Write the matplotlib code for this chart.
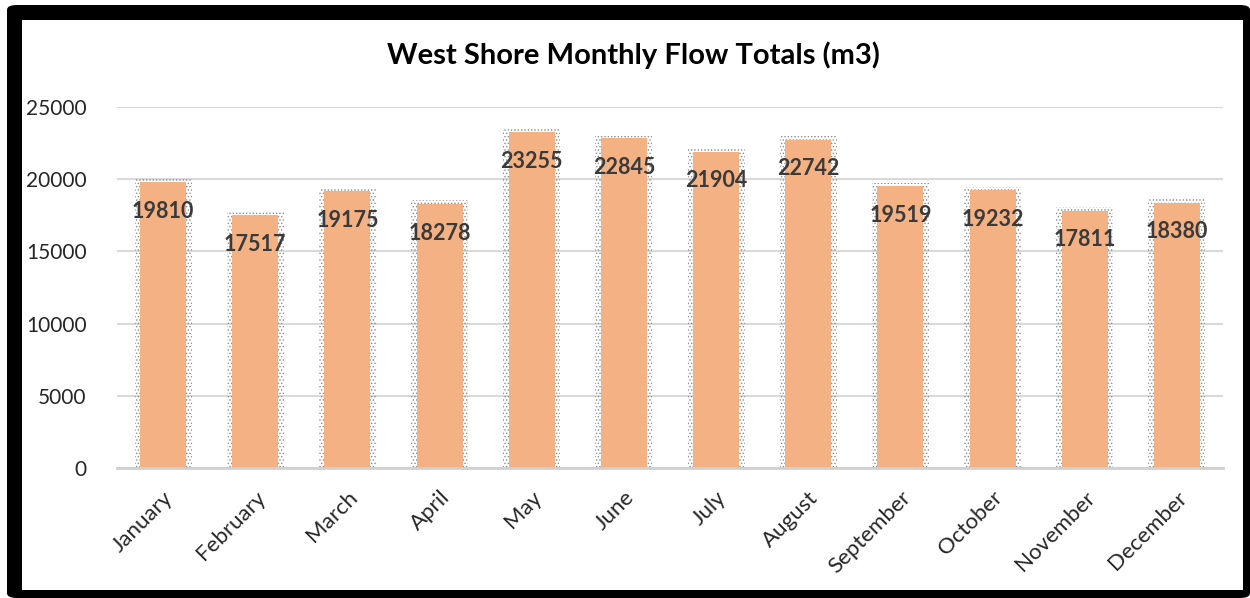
import matplotlib.pyplot as plt
from matplotlib.patches import FancyBboxPatch, Rectangle

# data
months = ["January", "February", "March", "April", "May", "June",
          "July", "August", "September", "October", "November", "December"]
flow_totals = [19810, 17517, 19175, 18278, 23255, 22845,
               21904, 22742, 19519, 19232, 17811, 18380]
y_ticks = [0, 5000, 10000, 15000, 20000, 25000]

bar_color = "#F4B183"
label_color = "#3A3A3A"

plt.rcParams["font.family"] = ["Lato", "DejaVu Sans"]
plt.rcParams["hatch.linewidth"] = 0.6

W, H = 1250, 598
fig = plt.figure(figsize=(W / 100, H / 100), dpi=100)

# black frame, a bit thicker on the left/top like the reference
outer = FancyBboxPatch((7 / W, 0), 1 - 7 / W, (H - 5) / H,
                       boxstyle="round,pad=0,rounding_size=0.008",
                       transform=fig.transFigure, facecolor="black",
                       edgecolor="none", zorder=-3)
inner = Rectangle((22 / W, 8 / H), (1243 - 22) / W, (590 - 20) / H,
                  transform=fig.transFigure, facecolor="white",
                  edgecolor="none", zorder=-2)
fig.patches.extend([outer, inner])

ax = fig.add_axes([117 / W, (H - 468) / H, (1223 - 117) / W, (468 - 107) / H])
ax.set_facecolor("none")

x = range(len(months))

# dotted soft shadow behind the bars
ax.bar(x, [v + 250 for v in flow_totals], width=0.62, facecolor="none",
       edgecolor="#8c8c8c", hatch=".....", linewidth=0, zorder=2)
ax.bar(x, flow_totals, width=0.5, color=bar_color, zorder=3)

for xi, v in zip(x, flow_totals):
    ax.annotate(str(v), (xi, v), xytext=(0, -21), textcoords="offset points",
                ha="center", va="center", fontsize=15.5, fontweight="bold",
                color=label_color, zorder=4)

ax.set_ylim(0, 25000)
ax.set_xlim(-0.5, len(months) - 0.5)
ax.set_yticks(y_ticks)
ax.set_yticklabels([str(t) for t in y_ticks], fontsize=15, color="#262626")
ax.set_xticks(list(x))
ax.set_xticklabels(months, rotation=45, ha="right", rotation_mode="anchor",
                   fontsize=16, color="#262626")
ax.tick_params(axis="both", length=0)
ax.tick_params(axis="y", pad=22)
ax.tick_params(axis="x", pad=14)

ax.grid(axis="y", color="#D9D9D9", linewidth=1.5, zorder=0)
ax.set_axisbelow(True)
for side in ["top", "right", "left"]:
    ax.spines[side].set_visible(False)
ax.spines["bottom"].set_color("#D0D0D0")
ax.spines["bottom"].set_linewidth(2)
ax.spines["bottom"].set_zorder(5)

fig.text(633 / W, (H - 55) / H, "West Shore Monthly Flow Totals (m3)",
         ha="center", va="center", fontsize=21, fontweight="bold",
         color="black")

fig.savefig("out.png", dpi=100)
